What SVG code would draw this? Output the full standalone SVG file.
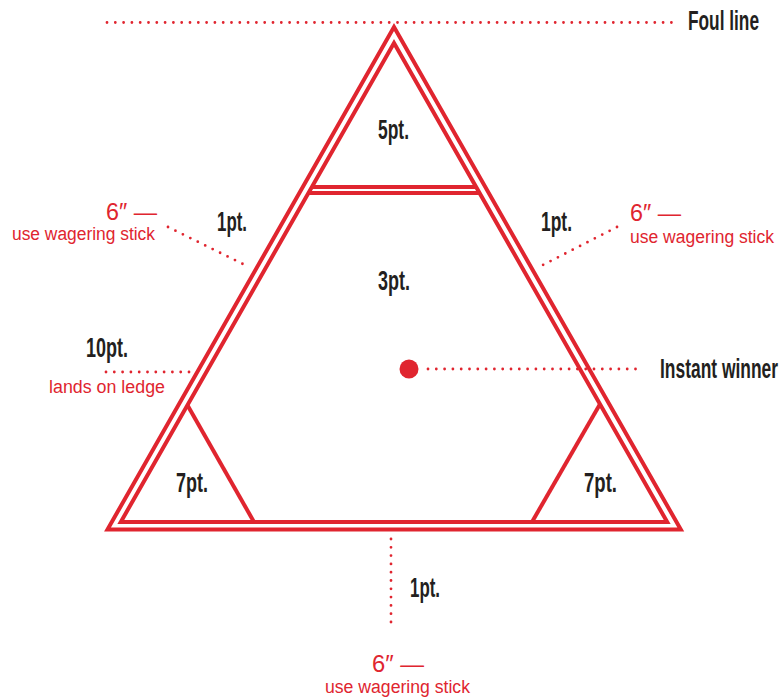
<svg xmlns="http://www.w3.org/2000/svg" width="782" height="698" viewBox="0 0 782 698">
<style>
.edge{fill:none;stroke:#e0252f;stroke-width:4;stroke-linejoin:miter;stroke-miterlimit:10}
.dot{fill:none;stroke:#e0252f;stroke-width:2.8;stroke-linecap:round;stroke-dasharray:0 8.3}
.lbl{font-family:"Liberation Sans",Arial,sans-serif;font-size:27px;font-weight:bold;fill:#231f20}
.red{font-family:"Liberation Sans",Arial,sans-serif;fill:#e0252f}
.big{font-size:23px}
.small{font-size:18px}
</style>
<rect width="782" height="698" fill="#ffffff"/>
<g id="connectors">
<line class="dot" x1="107" y1="22.5" x2="677" y2="22.5"/>
<line class="dot" x1="168" y1="227" x2="249" y2="267"/>
<line class="dot" x1="617" y1="227" x2="539" y2="267"/>
<line class="dot" x1="106" y1="372" x2="201" y2="372"/>
<line class="dot" x1="428" y1="369" x2="643" y2="369"/>
<line class="dot" x1="391" y1="539" x2="391" y2="629"/>
</g>
<g id="outer-triangle">
<polygon class="edge" points="394,27 680.8,529.5 107.5,529.5"/>
</g>
<g id="inner-triangle">
<polygon class="edge" points="394,43 667.2,522 120.8,522"/>
</g>
<g id="zone-5pt">
<line class="edge" x1="311.9" y1="187" x2="476.1" y2="187"/>
<text class="lbl" x="378" y="139" textLength="31" lengthAdjust="spacingAndGlyphs">5pt.</text>
</g>
<g id="zone-3pt">
<line class="edge" x1="308.5" y1="193" x2="479.5" y2="193"/>
<text class="lbl" x="378" y="290" textLength="32" lengthAdjust="spacingAndGlyphs">3pt.</text>
</g>
<g id="zone-7pt-left">
<polyline class="edge" points="187.5,405.3 254,522"/>
<text class="lbl" x="176" y="492" textLength="32" lengthAdjust="spacingAndGlyphs">7pt.</text>
</g>
<g id="zone-7pt-right">
<polyline class="edge" points="599.5,405 532,522"/>
<text class="lbl" x="584" y="492" textLength="33" lengthAdjust="spacingAndGlyphs">7pt.</text>
</g>
<g id="instant-winner">
<circle cx="409" cy="369" r="9.5" fill="#e0252f"/>
<text class="lbl" x="660" y="378" textLength="118" lengthAdjust="spacingAndGlyphs">Instant winner</text>
</g>
<g id="foul-line">
<text class="lbl" x="688" y="30" textLength="71" lengthAdjust="spacingAndGlyphs">Foul line</text>
</g>
<g id="label-left-side">
<text class="lbl" x="217" y="231" textLength="30" lengthAdjust="spacingAndGlyphs">1pt.</text>
<text class="red big" x="106" y="220" textLength="51" lengthAdjust="spacingAndGlyphs">6″ —</text>
<text class="red small" x="12" y="240" textLength="143" lengthAdjust="spacingAndGlyphs">use wagering stick</text>
</g>
<g id="label-right-side">
<text class="lbl" x="541" y="231" textLength="31" lengthAdjust="spacingAndGlyphs">1pt.</text>
<text class="red big" x="630" y="221" textLength="51" lengthAdjust="spacingAndGlyphs">6″ —</text>
<text class="red small" x="630" y="243" textLength="144" lengthAdjust="spacingAndGlyphs">use wagering stick</text>
</g>
<g id="label-ledge">
<text class="lbl" x="86" y="357" textLength="42" lengthAdjust="spacingAndGlyphs">10pt.</text>
<text class="red small" x="49" y="393" textLength="116" lengthAdjust="spacingAndGlyphs">lands on ledge</text>
</g>
<g id="label-bottom">
<text class="lbl" x="410" y="597" textLength="30" lengthAdjust="spacingAndGlyphs">1pt.</text>
<text class="red big" x="372" y="672" textLength="52" lengthAdjust="spacingAndGlyphs">6″ —</text>
<text class="red small" x="325" y="693" textLength="145" lengthAdjust="spacingAndGlyphs">use wagering stick</text>
</g>
</svg>
